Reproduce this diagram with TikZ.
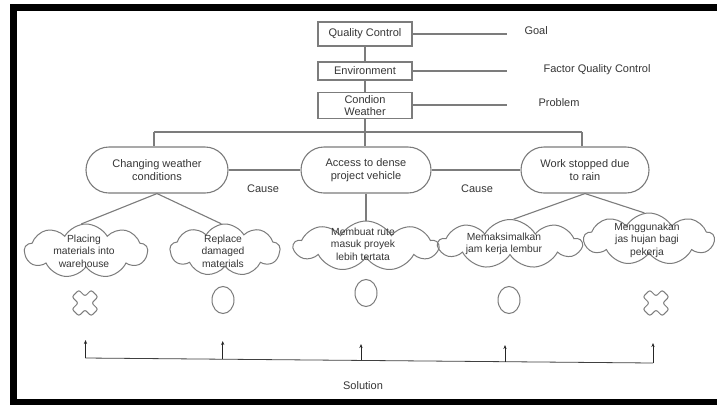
\documentclass[tikz,border=0pt]{standalone}
\usepackage{fontspec}
\setmainfont{Liberation Sans}
\usetikzlibrary{shapes.misc,shapes.symbols,shapes.geometric,arrows.meta,calc}
\definecolor{lnc}{HTML}{7C7C7C}
\definecolor{txc}{HTML}{363636}
\begin{document}
\begin{tikzpicture}[x=1pt,y=-1pt,
  every node/.style={text=txc, font=\fontsize{11}{12.5}\selectfont},
  conn/.style={draw=lnc, line width=1.1pt},
  topbox/.style={draw=lnc, line width=1.1pt, rectangle, minimum width=94pt, inner sep=0pt, align=center},
  stad/.style={draw=lnc, line width=1.1pt, rounded rectangle, minimum height=46pt, inner sep=0pt, align=center, font=\fontsize{11}{13}\selectfont},
  cloudbox/.style={draw=lnc, line width=1pt, cloud, cloud puffs=9, cloud puff arc=120, cloud ignores aspect, inner sep=0pt},
  cloudtxt/.style={font=\fontsize{10.3}{12.5}\selectfont, align=center},
  ovalmark/.style={draw=lnc, line width=1pt, ellipse, minimum width=22pt, minimum height=27pt, inner sep=0pt},
  arr/.style={draw=black!85, line width=0.8pt, -{Stealth[length=4pt,width=3.2pt]}},
  xmark/.pic={\draw[lnc, line width=1pt, rounded corners=2pt, rotate=45]
     (4.8,13.5) -- (4.8,4.8) -- (13.5,4.8) -- (13.5,-4.8) -- (4.8,-4.8) -- (4.8,-13.5) -- (-4.8,-13.5)
     -- (-4.8,-4.8) -- (-13.5,-4.8) -- (-13.5,4.8) -- (-4.8,4.8) -- (-4.8,13.5) -- cycle;}
]
\useasboundingbox (0,0) rectangle (717,405);
\fill[white] (0,0) rectangle (717,405);
% frame
\fill[black] (10,4) rectangle (717,11);
\fill[black] (10,4) rectangle (16.5,405);
\fill[black] (10,399) rectangle (717,405);

% top boxes
\node[topbox, minimum height=24pt] (qc) at (365,34) {Quality Control};
\node[topbox, minimum height=18pt] (env) at (365,71) {Environment};
\node[topbox, minimum height=26pt] (cw) at (365,105.5) {Condion\\Weather};

% right labels
\coordinate (gE) at (507,34);
\coordinate (fE) at (507,71);
\coordinate (pE) at (507,105);
\node[anchor=west] (goal) at (521,31) {Goal};
\node[anchor=west] (fqc) at (540,70) {Factor Quality Control};
\node[anchor=west] (prob) at (535,103) {Problem};
\draw[conn] (qc.east) -- (gE);
\draw[conn] (env.east) -- (fE);
\draw[conn] (cw.east |- pE) -- (pE);

% spine
\coordinate (bm) at (365,132);
\coordinate (bl) at (154,132);
\coordinate (br) at (582,132);
\draw[conn] (qc.south) -- (env.north);
\draw[conn] (env.south) -- (cw.north);
\draw[conn] (cw.south) -- (bm);
\draw[conn] (bl) -- (br);

% cause boxes
\node[stad, minimum width=142pt] (s1) at (157,170) {Changing weather\\conditions};
\node[stad, minimum width=130pt] (s2) at (366,170) {Access to dense\\project vehicle};
\node[stad, minimum width=128pt] (s3) at (585,170) {Work stopped due\\to rain};
\draw[conn] (bl) -- (bl |- s1.north);
\draw[conn] (bm) -- (bm |- s2.north);
\draw[conn] (br) -- (br |- s3.north);
\draw[conn] (s1.east) -- (s2.west);
\draw[conn] (s2.east) -- (s3.west);
\node (cause1) at (263,189) {Cause};
\node (cause2) at (477,189) {Cause};

% clouds
\node[cloudbox, minimum width=123pt, minimum height=54pt] (c1) at (86,251) {};
\node[cloudtxt] (t1) at (84,251) {Placing\\materials into\\warehouse};
\node[cloudbox, minimum width=110pt, minimum height=52pt] (c2) at (225,250) {};
\node[cloudtxt] (t2) at (223,251) {Replace\\damaged\\materials};
\node[cloudbox, minimum width=144pt, minimum height=50pt] (c3) at (366,246) {};
\node[cloudtxt] (t3) at (363,244) {Membuat rute\\masuk proyek\\lebih tertata};
\node[cloudbox, minimum width=143pt, minimum height=49pt] (c4) at (510,244) {};
\node[cloudtxt] (t4) at (504,244) {Memaksimalkan\\jam kerja lembur};
\node[cloudbox, minimum width=130pt, minimum height=52pt] (c5) at (649,239) {};
\node[cloudtxt] (t5) at (647,240) {Menggunakan\\jas hujan bagi\\pekerja};

\draw[conn] (s1.south) -- (c1.100);
\draw[conn] (s1.south) -- (c2.98);
\draw[conn] (s2.south) -- (s2.south |- c3.north);
\draw[conn] (s3.south) -- (c4.82);
\draw[conn] (s3.south) -- (c5.100);

% marks
\pic (x1) at (85,303) {xmark};
\node[ovalmark] (o2) at (223,300) {};
\node[ovalmark] (o3) at (366,293) {};
\node[ovalmark] (o4) at (509,300) {};
\pic (x5) at (656,303) {xmark};

% solution arrows
\coordinate (b1) at (85.5,358);
\coordinate (b2) at (222.7,359.2);
\coordinate (b3) at (361,360.4);
\coordinate (b4) at (505,361.7);
\coordinate (b5) at (653,363);
\coordinate (u1) at (85.5,340);
\coordinate (u2) at (222.7,341);
\coordinate (u3) at (361,344);
\coordinate (u4) at (505,345);
\coordinate (u5) at (653,343);
\draw[draw=black!75, line width=0.8pt] (b1) -- (b5);
\draw[arr] (b1) -- (u1);
\draw[arr] (b2) -- (u2);
\draw[arr] (b3) -- (u3);
\draw[arr] (b4) -- (u4);
\draw[arr] (b5) -- (u5);
\node (sol) at (363,386) {Solution};
\end{tikzpicture}
\end{document}
